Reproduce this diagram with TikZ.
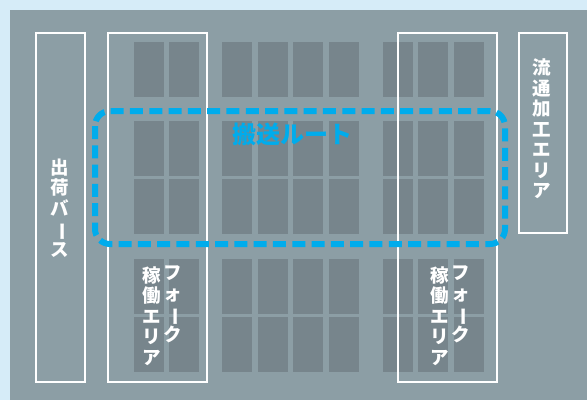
\documentclass[tikz,border=0pt]{standalone}
\usepackage{fontspec}
\usepackage{graphicx}
\newfontfamily\jp{Noto Sans CJK JP}
\definecolor{skybg}{RGB}{214,236,248}
\definecolor{floor}{RGB}{140,158,165}
\definecolor{rack}{RGB}{119,133,140}
\definecolor{routeblue}{RGB}{0,172,236}
\newcommand{\vbar}{\rotatebox[origin=c]{-90}{ー}}
\tikzset{
  area/.style={draw=white, line width=2pt, fill=none},
  vtext/.style={text=white, font=\jp\bfseries\fontsize{18.5}{20.5}\selectfont, align=center, inner sep=0pt},
  route/.style={draw=routeblue, line width=6pt, dash pattern=on 13pt off 6.3pt, rounded corners=15pt},
  racks/.style={fill=rack}
}
\begin{document}
\begin{tikzpicture}[x=1pt,y=-1pt]
\useasboundingbox (0,0) rectangle (587,400);
\fill[skybg] (0,0) rectangle (587,400);
\fill[floor] (10,10) rectangle (587,400);
% racks
\foreach \xa in {134,169,222,258,293,329,383,418,454}{
  \foreach \ya in {42,121,179,259,317}{
    \fill[racks] (\xa,\ya) rectangle ++(30,55);
  }
}
% areas
\draw[area] (36,33) rectangle (85,382);
\draw[area] (108,33) rectangle (207,382);
\draw[area] (398,33) rectangle (497,382);
\draw[area] (519,33) rectangle (567,233);
\node[vtext] (ship) at (60,208) {出\\荷\\バ\\\vbar\\ス};
\node[vtext] (proc) at (542,129) {流\\通\\加\\工\\エ\\リ\\ア};
\node[vtext, anchor=north] (fl1) at (152,266) {稼\\働\\エ\\リ\\ア};
\node[vtext, anchor=north] (fk1) at (173,266) {フ\\ォ\\\vbar\\ク};
\node[vtext, anchor=north] (fl2) at (440,266) {稼\\働\\エ\\リ\\ア};
\node[vtext, anchor=north] (fk2) at (461,266) {フ\\ォ\\\vbar\\ク};
% route
\draw[route] (95,111) rectangle (505,244);
\node[text=routeblue, font=\jp\bfseries\fontsize{24}{24}\selectfont, inner sep=0pt] (routelabel) at (292,134) {搬送ルート};
\end{tikzpicture}
\end{document}
